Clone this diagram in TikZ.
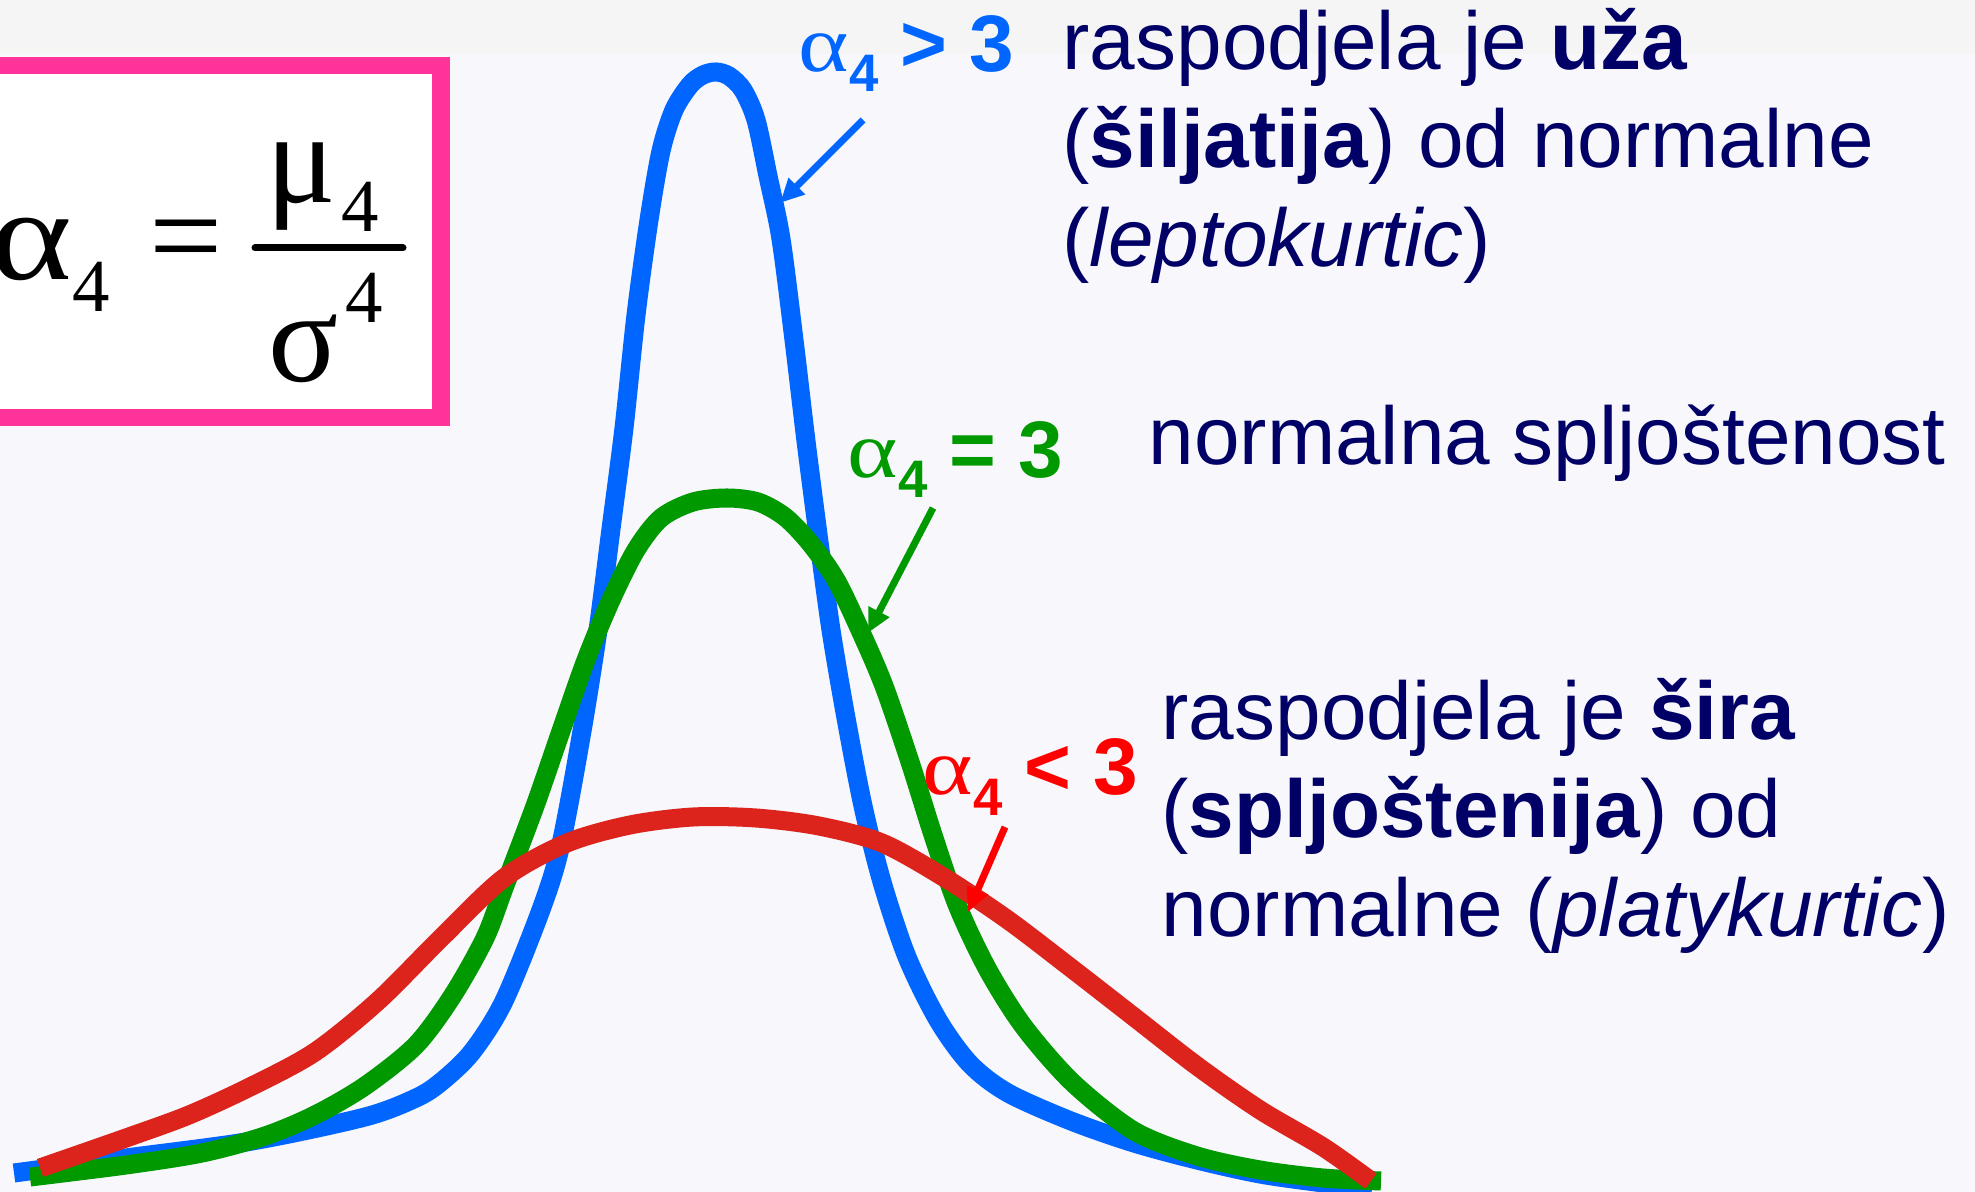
\documentclass[tikz,border=0pt]{standalone}
\usepackage{fontspec}
\setmainfont{Liberation Sans}
\newfontfamily\grcki{Liberation Serif}
\usetikzlibrary{arrows.meta}
\definecolor{pozadina}{HTML}{F7F7FC}
\definecolor{pozadinaGore}{HTML}{F5F5F6}
\definecolor{tekstPlavi}{HTML}{000066}
\definecolor{okvirRoza}{HTML}{FF3399}
\definecolor{leptoPlava}{HTML}{0066FF}
\definecolor{normalZelena}{HTML}{009900}
\definecolor{platiCrvena}{HTML}{DC241C}
\definecolor{oznakaCrvena}{HTML}{FF0000}
\newcommand{\alfa}{{\grcki\mdseries\scalebox{1.2}[1]{α}}}
\newcommand{\alfaCetiri}{\alfa\raisebox{-0.2cm}{\fontsize{15}{15}\selectfont 4}}

\begin{document}
\begin{tikzpicture}[x=0.01cm, y=-0.01cm,
        krivulja/.style={line width=0.19cm},
        pok/.style={-{Triangle[length=0.24cm, width=0.22cm]}, line width=0.07cm},
        lbl/.style={anchor=base west, inner sep=0pt, font=\fontsize{22.8}{27}\selectfont\bfseries},
        txt/.style={anchor=base west, inner sep=0pt, text=tekstPlavi, font=\fontsize{23.3}{28}\selectfont},
        formula/.style={anchor=base west, inner sep=0pt, font=\grcki\fontsize{37}{37}\selectfont},
        indeks/.style={anchor=base west, inner sep=0pt, font=\grcki\fontsize{21.3}{21.3}\selectfont}
    ]
        \useasboundingbox (0,0) rectangle (1975,1192);
        \fill[pozadina] (0,0) rectangle (1975,1192);
        \fill[pozadinaGore] (0,0) rectangle (1975,54);

        % okvir s formulom
        \draw[okvirRoza, fill=white, line width=0.17cm] (-20,66) rectangle (441,418);
        \node[formula] (alfa) at (-10,280) {\alfa};
        \node[indeks] (alfaInd) at (72,312) {4};
        \node[formula] (jednako) at (149,280) {=};
        \node[formula] (mi) at (266,203) {μ};
        \node[indeks] (miInd) at (341,232) {4};
        \node[formula] (sigma) at (268,382) {σ};
        \node[indeks] (sigmaEksp) at (345,323) {4};
        \coordinate (crtaL) at (255,248);
        \coordinate (crtaD) at (403,248);
        \draw[line width=0.07cm, line cap=round] (crtaL) -- (crtaD);

        % krivulje
        \draw[krivulja, leptoPlava] plot[smooth, tension=0.5] coordinates {
            (14,1173) (126,1158) (252,1141) (365,1117) (416,1098) (441,1082) (472,1052)
            (504,1001) (542,907) (561,844) (582,731) (598,630) (611,529) (624,428)
            (636,315) (649,220) (661,151) (674,110) (690,85) (703,75) (716,72) (729,76)
            (743,90) (756,120) (768,176) (781,239) (794,340) (806,441) (819,542)
            (831,630) (846,718) (863,806) (882,882) (907,957) (938,1020) (970,1064)
            (1008,1093) (1071,1121) (1134,1143) (1197,1160) (1260,1174) (1323,1183) (1372,1189)};
        \draw[krivulja, normalZelena] plot[smooth, tension=0.5] coordinates {
            (30,1177) (126,1165) (202,1153) (265,1136) (315,1115) (365,1086) (416,1045)
            (453,995) (485,938) (504,888) (535,806) (561,731) (586,660) (611,600)
            (636,550) (661,518) (693,502) (727,498) (758,502) (785,517) (810,543)
            (836,580) (860,630) (884,686) (910,762) (934,838) (958,907) (988,970)
            (1024,1027) (1073,1083) (1134,1131) (1197,1156) (1260,1170) (1323,1178) (1381,1181)};
        \draw[krivulja, platiCrvena] plot[smooth, tension=0.5] coordinates {
            (40,1168) (126,1138) (189,1115) (252,1086) (315,1052) (378,1001) (441,938)
            (504,878) (567,843) (630,825) (693,817) (756,818) (819,826) (882,843)
            (945,878) (1008,920) (1071,968) (1134,1017) (1197,1066) (1260,1110)
            (1323,1147) (1371,1181)};

        % oznake i strelice
        \node[lbl, text=leptoPlava] (oznLepto) at (798,72) {\alfaCetiri{} > 3};
        \node[lbl, text=normalZelena] (oznNormal) at (847,478) {\alfaCetiri{} = 3};
        \node[lbl, text=oznakaCrvena] (oznPlati) at (922,795) {\alfaCetiri{} < 3};
        \coordinate (pocLepto) at (863,120);
        \coordinate (vrhLepto) at (780,203);
        \coordinate (pocNormal) at (933,508);
        \coordinate (vrhNormal) at (868,633);
        \coordinate (pocPlati) at (1005,827);
        \coordinate (vrhPlati) at (968,912);
        \draw[pok, leptoPlava] (pocLepto) -- (vrhLepto);
        \draw[pok, normalZelena] (pocNormal) -- (vrhNormal);
        \draw[pok, oznakaCrvena] (pocPlati) -- (vrhPlati);

        % tekst
        \node[txt] (lepto1) at (1062,70) {raspodjela je \textbf{uža}};
        \node[txt] (lepto2) at (1062,168) {(\textbf{šiljatija}) od normalne};
        \node[txt] (lepto3) at (1062,267) {(\textit{leptokurtic})};
        \node[txt] (normal) at (1148,465) {normalna spljoštenost};
        \node[txt] (plati1) at (1161,740) {raspodjela je \textbf{šira}};
        \node[txt] (plati2) at (1161,838) {(\textbf{spljoštenija}) od};
        \node[txt] (plati3) at (1161,937) {normalne (\textit{platykurtic})};
\end{tikzpicture}
\end{document}
